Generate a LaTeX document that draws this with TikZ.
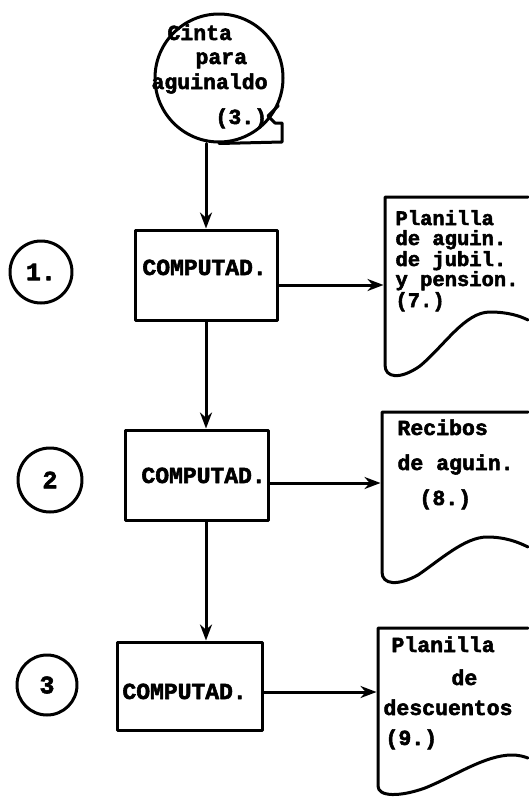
\documentclass[tikz,border=0pt]{standalone}
\usepackage{fontspec}
\newfontfamily\heavymono{Liberation Mono Bold}[FakeBold=2.5]
\usetikzlibrary{arrows.meta}
\begin{document}
\begin{tikzpicture}[x=1pt,y=-1pt,
  line width=3pt, line join=round, line cap=round,
  flow/.style={draw, line width=3pt, -{Stealth[length=16pt,width=12pt]}},
  proc/.style={draw, rectangle, line width=3pt, inner sep=0pt},
  txt/.style={font=\heavymono\fontsize{21.5}{19}\selectfont, inner sep=0pt, anchor=base west},
  smalltxt/.style={font=\heavymono\fontsize{20.5}{19}\selectfont, inner sep=0pt, anchor=base west},
  boxtxt/.style={font=\heavymono\fontsize{23}{19}\selectfont, inner sep=0pt, anchor=base west},
  numc/.style={draw, circle, line width=3pt, inner sep=0pt, font=\heavymono\fontsize{25}{20}\selectfont},
  docarea/.style={rectangle, inner sep=0pt},
  docline/.style={line width=3pt}
]
\useasboundingbox (0,0) rectangle (528,798);

% magnetic tape
\node[draw, circle, minimum size=128pt, inner sep=0pt, line width=3pt] (tape) at (219,78) {};
\draw (tape.-25) -- (268,116) -- (275,123) -- (282,123) -- (282,142) -- (tape.south);
\node[txt] (t1) at (166,40) {Cinta};
\node[txt] (t2) at (194,64) {para};
\node[txt] (t3) at (150,89) {aguinaldo};
\node[txt] (t4) at (214,124) {(3.)};

% process boxes
\node[proc, minimum width=142pt, minimum height=90pt] (box1) at (206,275) {};
\node[proc, minimum width=143pt, minimum height=90pt] (box2) at (196.5,475) {};
\node[proc, minimum width=145pt, minimum height=88pt] (box3) at (189.5,686) {};
\node[boxtxt] (c1) at (141,275) {COMPUTAD.};
\node[boxtxt] (c2) at (140,483) {COMPUTAD.};
\node[boxtxt] (c3) at (121,699) {COMPUTAD.};

% step numbers
\node[numc, minimum size=62pt] (n1) at (41,272) {1.};
\node[numc, minimum size=64pt] (n2) at (50,480) {2};
\node[numc, minimum size=60pt] (n3) at (47,685) {3};

% documents (areas for anchoring)
\node[docarea, minimum width=143pt, minimum height=175pt] (doc1) at (456.5,284.5) {};
\node[docarea, minimum width=146pt, minimum height=171pt] (doc2) at (455,497.5) {};
\node[docarea, minimum width=150pt, minimum height=165pt] (doc3) at (453,710.5) {};

\draw[docline] (528,197) -- (385,197) -- (385,365)
  .. controls (385,378) and (400,380) .. (420,366)
  .. controls (445,345) and (465,312) .. (490,312)
  .. controls (508,312) and (520,316) .. (528,320);
\draw[docline] (528,412) -- (382,412) -- (382,572)
  .. controls (382,585) and (398,586) .. (418,575)
  .. controls (440,560) and (465,537) .. (487,537)
  .. controls (505,537) and (518,542) .. (528,547);
\draw[docline] (528,628) -- (378,628) -- (378,786)
  .. controls (378,797) and (400,797) .. (425,788)
  .. controls (455,776) and (485,755) .. (512,755)
  .. controls (520,755) and (525,757) .. (528,758);

\node[smalltxt] (d11) at (394,225) {Planilla};
\node[smalltxt] (d12) at (394,245) {de aguin.};
\node[smalltxt] (d13) at (394,266) {de jubil.};
\node[smalltxt] (d14) at (394,286) {y pension.};
\node[smalltxt] (d15) at (394,307) {(7.)};

\node[txt] (d21) at (396,435) {Recibos};
\node[txt] (d22) at (396,470) {de aguin.};
\node[txt] (d23) at (418,505) {(8.)};

\node[txt] (d31) at (390,652) {Planilla};
\node[txt] (d32) at (450,685) {de};
\node[txt] (d33) at (382,715) {descuentos};
\node[txt] (d34) at (384,745) {(9.)};

% connectors
\path[flow] (tape.south -| box1.north) -- (box1.north);
\path[flow] (box1.south) -- (box1.south |- box2.north);
\path[flow] (box2.south -| box1.south) -- (box3.north -| box1.south);
\path[flow] ([yshift=-10pt]box1.east) -- ([yshift=-10pt]box1.east -| doc1.west);
\path[flow] ([yshift=-8pt]box2.east) -- ([yshift=-8pt]box2.east -| doc2.west);
\path[flow] ([yshift=-6pt]box3.east) -- ([yshift=-6pt]box3.east -| doc3.west);
\end{tikzpicture}
\end{document}
